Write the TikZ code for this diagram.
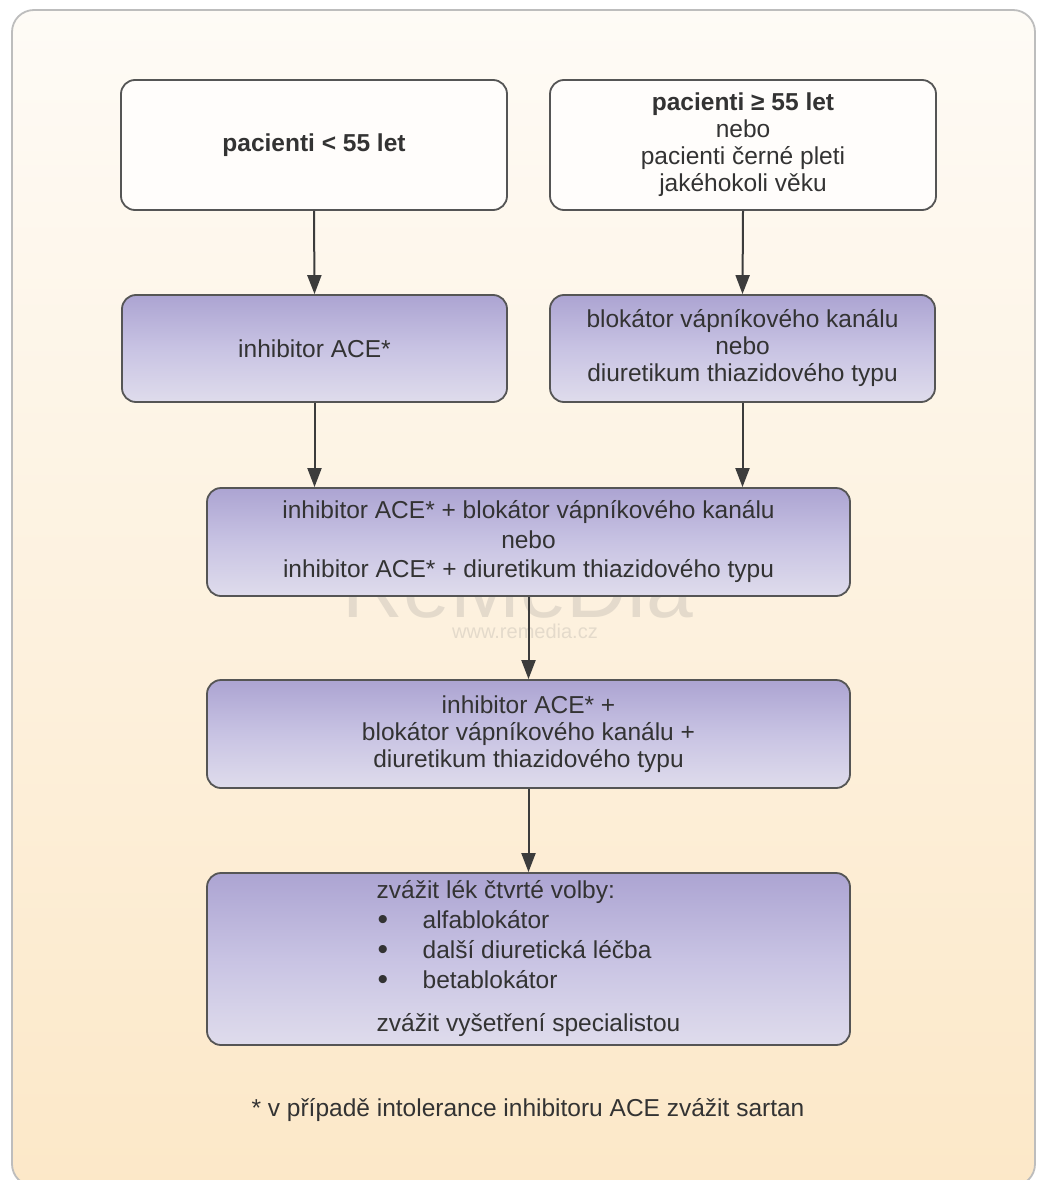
\documentclass[tikz,border=0pt]{standalone}
\usepackage{fontspec}
\setmainfont{Liberation Sans}
\usetikzlibrary{arrows.meta}

\definecolor{bgtop}{HTML}{FEFBF6}
\definecolor{bgbot}{HTML}{FCE8C8}
\definecolor{boxtop}{HTML}{ACA4D2}
\definecolor{boxmid}{HTML}{C8C3E3}
\definecolor{boxbot}{HTML}{DFDCEC}
\definecolor{edge}{HTML}{555555}
\definecolor{txt}{HTML}{333333}
\definecolor{panelline}{HTML}{BDBDBD}

\newcommand{\bigbul}{\raisebox{-1pt}{\fontsize{30}{30}\selectfont\textbullet}}

\begin{document}
\begin{tikzpicture}[x=1pt,y=-1pt,
  base/.style={draw=edge, line width=1.8pt, rounded corners=14pt, inner sep=0pt,
    font=\fontsize{24.5}{27}\selectfont, text=txt, align=center},
  whitebox/.style={base, fill=white!60!bgtop},
  purplebox/.style={base, top color=boxtop, bottom color=boxbot, middle color=boxmid},
  arr/.style={draw=edge!70!black, line width=2pt, -{Triangle[length=19pt,width=14pt]}},
  boxtext/.style={font=\fontsize{24.5}{27}\selectfont, text=txt, inner sep=0pt},
]
\useasboundingbox (0,0) rectangle (1039,1180);
\fill[white] (0,0) rectangle (1039,1180);

% background panel
\draw[draw=panelline, line width=1.8pt, rounded corners=22pt, top color=bgtop, bottom color=bgbot]
  (12,10) rectangle (1035,1186);

% watermark
\node[font=\fontsize{84}{84}\selectfont, text=gray, opacity=0.2, anchor=base, inner sep=0pt]
  (wm) at (518,617) {ReMeDia};
\node[font=\fontsize{20}{20}\selectfont, text=gray, opacity=0.2, inner sep=0pt]
  (wmurl) at (525,631) {www.remedia.cz};

% boxes
\node[whitebox, minimum width=386pt, minimum height=130pt] (b1) at (314,145)
  {\textbf{pacienti < 55 let}};
\node[whitebox, minimum width=386pt, minimum height=130pt] (b2) at (743,145)
  {\textbf{pacienti ≥ 55 let}\\nebo\\pacienti černé pleti\\jakéhokoli věku};
\node[purplebox, minimum width=385pt, minimum height=107pt] (b3) at (314.5,348.5)
  {inhibitor ACE*};
\node[purplebox, minimum width=385pt, minimum height=107pt] (b4) at (742.5,348.5)
  {blokátor vápníkového kanálu\\nebo\\diuretikum thiazidového typu};
\node[purplebox, minimum width=643pt, minimum height=108pt,
  font=\fontsize{24.5}{29.5}\selectfont] (b5) at (528.5,542)
  {inhibitor ACE* + blokátor vápníkového kanálu\\nebo\\inhibitor ACE* + diuretikum thiazidového typu};
\node[purplebox, minimum width=643pt, minimum height=108pt] (b6) at (528.5,734)
  {inhibitor ACE* +\\blokátor vápníkového kanálu +\\diuretikum thiazidového typu};
\node[purplebox, minimum width=643pt, minimum height=172pt] (b7) at (528.5,959) {};
\node[boxtext, align=left, font=\fontsize{24.5}{30}\selectfont] (b7t) at (b7.center)
  {zvážit lék čtvrté volby:\\
   \hspace*{1pt}\makebox[45pt][l]{\bigbul}alfablokátor\\
   \hspace*{1pt}\makebox[45pt][l]{\bigbul}další diuretická léčba\\
   \hspace*{1pt}\makebox[45pt][l]{\bigbul}betablokátor\\[13pt]
   zvážit vyšetření specialistou};

% footnote
\node[boxtext] (fn) at (528,1110) {* v případě intolerance inhibitoru ACE zvážit sartan};

% connectors
\draw[arr] (b1.south) -- (b3.north);
\draw[arr] (b2.south) -- (b4.north);
\draw[arr] (b3.south) -- (b3.south |- b5.north);
\draw[arr] (b4.south) -- (b4.south |- b5.north);
\draw[arr] (b5.south) -- (b6.north);
\draw[arr] (b6.south) -- (b7.north);
\end{tikzpicture}
\end{document}
